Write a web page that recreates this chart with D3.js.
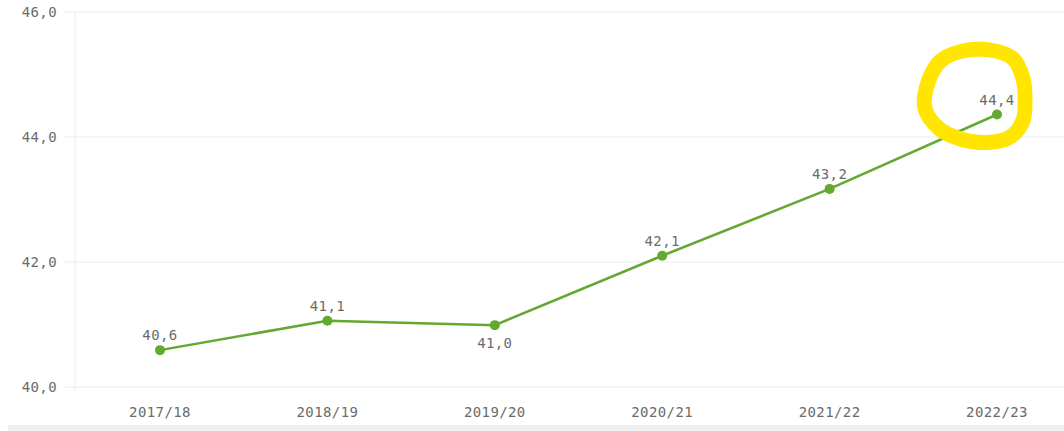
<!DOCTYPE html>
<html>
<head>
<meta charset="utf-8">
<script src="https://cdn.jsdelivr.net/npm/d3@7"></script>
<style>
  body { margin: 0; background: #fff; }
  text { font-family: "DejaVu Sans Mono", monospace; fill: #6b6b6b; letter-spacing: 0.4px; }
</style>
</head>
<body>
<svg width="1064" height="431"></svg>
<script>
// data
var seasons = ['2017/18', '2018/19', '2019/20', '2020/21', '2021/22', '2022/23']
var values = [40.59, 41.06, 40.99, 42.1, 43.17, 44.36]
var yTicks = [40, 42, 44, 46]

var svg = d3.select('svg')
var W = 1064, H = 431
var axisX = 75, plotTop = 12, plotBottom = 387

var x = d3.scalePoint().domain(seasons).range([160, 997])
var y = d3.scaleLinear().domain([40, 46]).range([plotBottom, plotTop])

var fmt = v => d3.format('.1f')(v).replace('.', ',')

// bottom grey band
svg.append('rect').attr('x', 8).attr('y', 425).attr('width', W - 8).attr('height', 6).attr('fill', '#efefef')

// gridlines
svg.selectAll('line.grid')
    .data(yTicks)
    .enter()
    .append('line')
    .attr('class', 'grid')
    .attr('x1', 65).attr('x2', W)
    .attr('y1', d => y(d)).attr('y2', d => y(d))
    .attr('stroke', '#ececec')
    .attr('stroke-width', 1)

// y axis line
svg.append('line')
    .attr('x1', axisX).attr('x2', axisX)
    .attr('y1', plotTop).attr('y2', plotBottom + 3)
    .attr('stroke', '#ececec')

// y labels
svg.selectAll('text.ylab')
    .data(yTicks)
    .enter()
    .append('text')
    .attr('class', 'ylab')
    .attr('x', 57)
    .attr('y', d => y(d) + 5)
    .attr('text-anchor', 'end')
    .style('font-size', '14px')
    .text(fmt)

// x labels
svg.selectAll('text.xlab')
    .data(seasons)
    .enter()
    .append('text')
    .attr('class', 'xlab')
    .attr('x', d => x(d))
    .attr('y', 417)
    .attr('text-anchor', 'middle')
    .style('font-size', '14px')
    .text(d => d)

var pts = seasons.map((s, i) => ({s: s, v: values[i], prev: i > 0 ? values[i - 1] : null}))

// the line
svg.append('path')
    .datum(pts)
    .attr('fill', 'none')
    .attr('stroke', '#63a830')
    .attr('stroke-width', 2.5)
    .attr('d', d3.line().x(d => x(d.s)).y(d => y(d.v)))

svg.selectAll('circle.pt')
    .data(pts)
    .enter()
    .append('circle')
    .attr('class', 'pt')
    .attr('cx', d => x(d.s))
    .attr('cy', d => y(d.v))
    .attr('r', 5)
    .attr('fill', '#63a830')

// value labels, below when the point dips
svg.selectAll('text.val')
    .data(pts)
    .enter()
    .append('text')
    .attr('class', 'val')
    .attr('x', d => x(d.s))
    .attr('y', d => (d.prev !== null && d.v < d.prev) ? y(d.v) + 23 : y(d.v) - 10)
    .attr('text-anchor', 'middle')
    .style('font-size', '14px')
    .text(d => fmt(d.v))

// yellow hand-drawn ring round the last value
var last = pts[pts.length - 1]
var cx = x(last.s) - 22, cy = y(last.v) - 18
var ring = [[-50, 12], [-47, -14], [-34, -36], [-10, -46], [18, -46], [38, -38], [48, -18], [50, 4], [48, 24], [36, 40], [12, 46], [-16, 42], [-36, 32]]
svg.append('path')
    .attr('d', d3.line().curve(d3.curveCatmullRomClosed.alpha(0.5))(ring.map(p => [cx + p[0], cy + p[1]])))
    .attr('fill', 'none')
    .attr('stroke', '#ffe500')
    .attr('stroke-width', 15)
    .attr('stroke-linejoin', 'round')
</script>
</body>
</html>
